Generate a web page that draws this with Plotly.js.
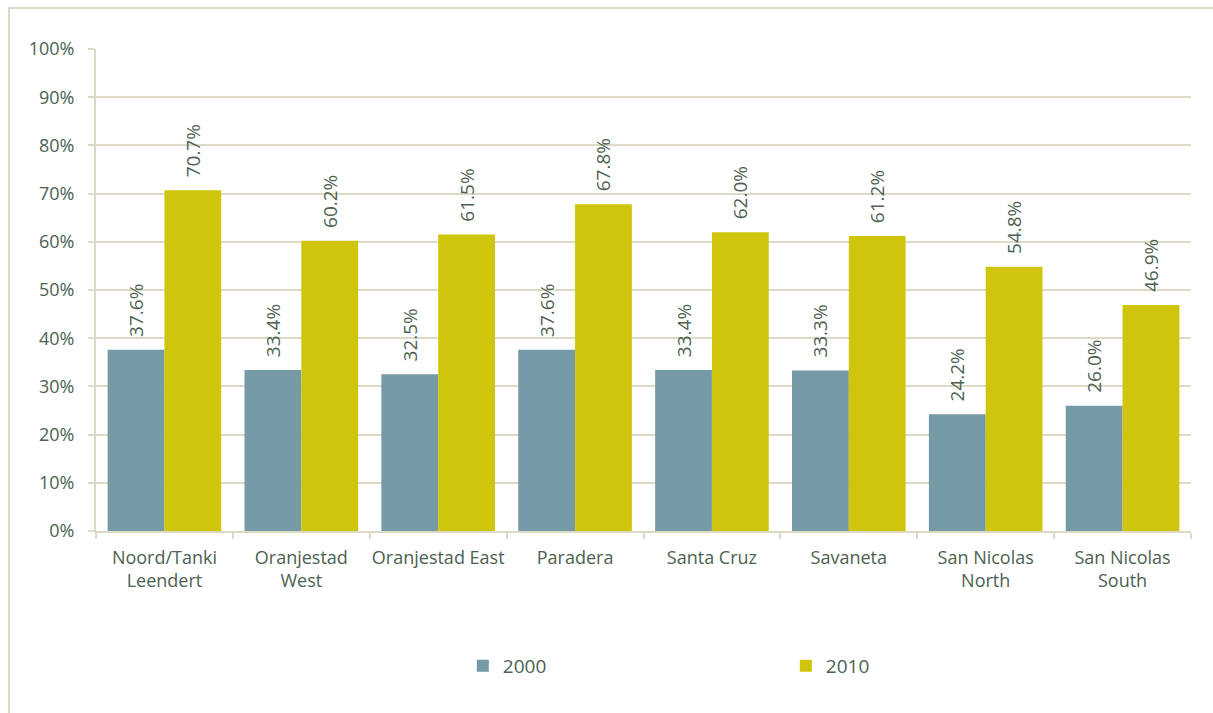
<!DOCTYPE html>
<html>
<head>
<meta charset="utf-8">
<script src="https://cdn.plot.ly/plotly-3.0.1.min.js"></script>
<style>
  body { margin: 0; background: #fff; }
  #chart { width: 1213px; height: 713px; }
</style>
</head>
<body>
<div id="chart"></div>
<script>
  var districts = ['Noord/Tanki<br>Leendert', 'Oranjestad<br>West', 'Oranjestad East', 'Paradera',
                   'Santa Cruz', 'Savaneta', 'San Nicolas<br>North', 'San Nicolas<br>South'];
  var values2000 = [37.6, 33.4, 32.5, 37.6, 33.4, 33.3, 24.2, 26.0];
  var values2010 = [70.7, 60.2, 61.5, 67.8, 62.0, 61.2, 54.8, 46.9];
  var yTicks = [0, 10, 20, 30, 40, 50, 60, 70, 80, 90, 100];

  var textColor = '#4c6151';
  var gridColor = '#dcdac4';
  var font = '"Open Sans", sans-serif';

  var labels = function(vals){
    return vals.map(function(v){ return '\u00a0\u00a0' + v.toFixed(1) + '%'; });
  };

  var trace2000 = {
    type: 'bar', name: '2000', x: districts, y: values2000,
    marker: {color: '#7599a5'},
    text: labels(values2000), textposition: 'outside', textangle: -90, constraintext: 'none',
    textfont: {size: 19, color: textColor, family: font},
    cliponaxis: false, hoverinfo: 'none'
  };
  var trace2010 = {
    type: 'bar', name: '2010', x: districts, y: values2010,
    marker: {color: '#d0c50d'},
    text: labels(values2010), textposition: 'outside', textangle: -90, constraintext: 'none',
    textfont: {size: 19, color: textColor, family: font},
    cliponaxis: false, hoverinfo: 'none'
  };

  var layout = {
    width: 1213, height: 713,
    margin: {l: 96, r: 22, t: 49, b: 182},
    paper_bgcolor: '#fff', plot_bgcolor: '#fff',
    font: {family: font, size: 18, color: textColor},
    barmode: 'group', bargap: 0.17, bargroupgap: 0,
    showlegend: true,
    legend: {orientation: 'h', x: 0.335, xanchor: 'left', y: -0.28, yanchor: 'middle',
             entrywidth: 278, font: {size: 19, color: textColor, family: font}, itemwidth: 30},
    xaxis: {
      type: 'category', showgrid: false, showline: true, linecolor: gridColor, linewidth: 2,
      ticks: 'outside', tickson: 'boundaries', ticklen: 6, tickcolor: gridColor, tickwidth: 2,
      tickangle: 0, ticklabelstandoff: 9,
      tickfont: {size: 18, color: textColor, family: font}, fixedrange: true
    },
    yaxis: {
      range: [0, 100], tickvals: yTicks, ticktext: yTicks.map(function(t){ return t + '%'; }),
      showgrid: true, gridcolor: gridColor, gridwidth: 2,
      showline: true, linecolor: gridColor, linewidth: 2, zeroline: false,
      ticks: 'outside', ticklen: 6, tickcolor: gridColor, tickwidth: 2,
      ticklabelstandoff: 10,
      tickfont: {size: 18, color: textColor, family: font}, fixedrange: true
    },
    shapes: [{
      type: 'rect', xref: 'paper', yref: 'paper',
      x0: (9 - 96) / 1095, x1: (1240 - 96) / 1095,
      y0: (531 - 740) / 482, y1: (531 - 8) / 482,
      line: {color: gridColor, width: 2}, fillcolor: 'rgba(0,0,0,0)', layer: 'below'
    }]
  };

  Plotly.newPlot('chart', [trace2000, trace2010], layout, {displayModeBar: false, staticPlot: true});
</script>
</body>
</html>
